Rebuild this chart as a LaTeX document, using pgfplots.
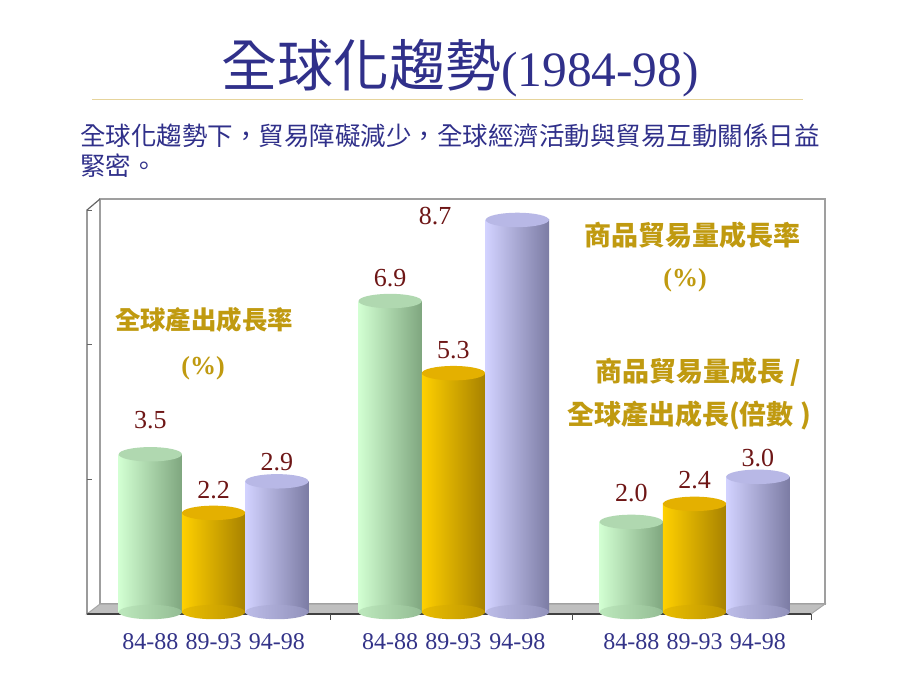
\documentclass[border=0pt]{standalone}
\usepackage{pgfplots}
\pgfplotsset{compat=1.18}
\usepackage{pgfplotstable}
\usepackage{fontspec}
\setmainfont{Liberation Serif}
\newfontfamily\cjk{Noto Sans CJK TC}

\definecolor{navy}{HTML}{30308A}
\definecolor{tickblue}{HTML}{333388}
\definecolor{valred}{HTML}{6E1616}
\definecolor{gold}{HTML}{C09A10}
\definecolor{rule}{HTML}{E6D49C}
\definecolor{gL}{HTML}{D2FFD2}
\definecolor{gR}{HTML}{7FA67F}
\definecolor{gT}{HTML}{B0D8B0}
\definecolor{yL}{HTML}{FFD000}
\definecolor{yR}{HTML}{A88200}
\definecolor{yT}{HTML}{E4B000}
\definecolor{pL}{HTML}{D2D2FF}
\definecolor{pR}{HTML}{7C7CA4}
\definecolor{pT}{HTML}{B8B8E6}

\pgfdeclarehorizontalshading{gshade}{100bp}{color(0bp)=(gL); color(100bp)=(gR)}
\pgfdeclarehorizontalshading{yshade}{100bp}{color(0bp)=(yL); color(100bp)=(yR)}
\pgfdeclarehorizontalshading{pshade}{100bp}{color(0bp)=(pL); color(100bp)=(pR)}

\pgfdeclareplotmark{cyl}{%
  \pgfpathellipse{\pgfpointorigin}{\pgfqpoint{\pgfplotmarksize}{0pt}}{\pgfqpoint{0pt}{3.6pt}}%
  \pgfusepathqfill}
\pgfdeclareplotmark{gbot}{%
  \pgfpathellipse{\pgfpointorigin}{\pgfqpoint{\pgfplotmarksize}{0pt}}{\pgfqpoint{0pt}{3.6pt}}%
  \pgfshadepath{gshade}{0}\pgfusepath{}}
\pgfdeclareplotmark{ybot}{%
  \pgfpathellipse{\pgfpointorigin}{\pgfqpoint{\pgfplotmarksize}{0pt}}{\pgfqpoint{0pt}{3.6pt}}%
  \pgfshadepath{yshade}{0}\pgfusepath{}}
\pgfdeclareplotmark{pbot}{%
  \pgfpathellipse{\pgfpointorigin}{\pgfqpoint{\pgfplotmarksize}{0pt}}{\pgfqpoint{0pt}{3.6pt}}%
  \pgfshadepath{pshade}{0}\pgfusepath{}}

% series: x position, value
\pgfplotstableread{
x y
1 3.5
4.79 6.9
8.6 2.0
}\sgreen
\pgfplotstableread{
x y
2 2.2
5.79 5.3
9.6 2.4
}\sgold
\pgfplotstableread{
x y
3 2.9
6.8 8.7
10.6 3.0
}\spurple
% value labels: position and text
\pgfplotstableread{
x y lab
1 4.26 3.5
2 2.71 2.2
3 3.33 2.9
4.79 7.41 6.9
5.79 5.81 5.3
5.5 8.79 8.7
8.6 2.64 2.0
9.6 2.93 2.4
10.6 3.42 3.0
}\slabels

\begin{document}
\begin{tikzpicture}
\begin{scope}[x=0.5pt,y=-0.5pt]
  \path[use as bounding box] (0,0) rectangle (920,690);
  % title
  \node[anchor=base,text=navy,inner sep=0pt] at (460,87)
    {\cjk\fontsize{28}{30}\selectfont 全球化趨勢\rmfamily\fontsize{24.75}{26}\selectfont(1984-98)};
  \draw[rule,line width=0.8pt] (92,99.5) -- (803,99.5);
  % subtitle
  \node[anchor=base west,text=navy,inner sep=0pt] at (80,145)
    {\cjk\fontsize{12.75}{14}\selectfont 全球化趨勢下，貿易障礙減少，全球經濟活動與貿易互動關係日益};
  \node[anchor=base west,text=navy,inner sep=0pt] at (80,175)
    {\cjk\fontsize{12.75}{14}\selectfont 緊密。};
  % 3D frame
  \filldraw[fill=white,draw=gray!75,line width=0.6pt] (100,199) rectangle (825,604);
  \filldraw[fill=gray!50,draw=gray!70,line width=0.5pt] (87,614) -- (100,604) -- (825,604) -- (811,614) -- cycle;
  \draw[black!75,line width=0.7pt] (87,614) -- (811,614);
  \draw[gray!80!black,line width=0.6pt] (87,614) -- (87,210) -- (100,199);
  \foreach \yy in {210,344,479} \draw[gray!80!black,line width=0.5pt] (87,\yy) -- (92,\yy);
  \foreach \xx in {330,572,811} \draw[black!70,line width=0.5pt] (\xx,614) -- (\xx,620);
\end{scope}

\begin{axis}[
  at={(43.5pt,-307pt)}, anchor=south west,
  scale only axis, width=362pt, height=202pt,
  xmin=0, xmax=11.44, ymin=-0.044, ymax=8.92,
  clip=false,
  axis line style={draw=none}, tick style={draw=none},
  ytick=\empty,
  xtick={1,2,3,4.79,5.79,6.8,8.6,9.6,10.6},
  xticklabels={84-88,89-93,94-98,84-88,89-93,94-98,84-88,89-93,94-98},
  xticklabel style={anchor=base, yshift=-17.5pt, text=tickblue,
    font=\fontsize{12}{14}\selectfont},
]
% bottom rounding
\addplot[only marks, mark=gbot, mark size=15.8pt] table[x=x, y expr=0] {\sgreen};
\addplot[only marks, mark=ybot, mark size=15.8pt] table[x=x, y expr=0] {\sgold};
\addplot[only marks, mark=pbot, mark size=15.8pt] table[x=x, y expr=0] {\spurple};
% cylinder bodies, one bar at a time so each has its own shading
\pgfplotsinvokeforeach{0,1,2}{
  \addplot[ybar, bar width=1, bar shift=0pt, draw=none, left color=gL, right color=gR,
    restrict expr to domain={\coordindex}{#1:#1}] table[x=x,y=y] {\sgreen};
  \addplot[ybar, bar width=1, bar shift=0pt, draw=none, left color=yL, right color=yR,
    restrict expr to domain={\coordindex}{#1:#1}] table[x=x,y=y] {\sgold};
  \addplot[ybar, bar width=1, bar shift=0pt, draw=none, left color=pL, right color=pR,
    restrict expr to domain={\coordindex}{#1:#1}] table[x=x,y=y] {\spurple};
}
% tops
\addplot[only marks, mark=cyl, mark size=15.8pt, color=gT] table[x=x,y=y] {\sgreen};
\addplot[only marks, mark=cyl, mark size=15.8pt, color=yT] table[x=x,y=y] {\sgold};
\addplot[only marks, mark=cyl, mark size=15.8pt, color=pT] table[x=x,y=y] {\spurple};
% value labels
\addplot[draw=none, mark=none, nodes near coords, point meta=explicit symbolic,
  nodes near coords align={anchor=center},
  every node near coord/.append style={anchor=center, text=valred, inner sep=0pt,
    font=\fontsize{13}{15}\selectfont}]
  table[x=x,y=y,meta=lab] {\slabels};
\end{axis}

\begin{scope}[x=0.5pt,y=-0.5pt]
  \node[text=gold,inner sep=0pt] at (204,320) {\cjk\bfseries\fontsize{12.7}{14}\selectfont 全球產出成長率};
  \node[text=gold,inner sep=0pt] at (203,368) {\bfseries\fontsize{13}{14}\selectfont (\%)};
  \node[text=gold,inner sep=0pt] at (692,235) {\cjk\bfseries\fontsize{13.5}{15}\selectfont 商品貿易量成長率};
  \node[text=gold,inner sep=0pt] at (685,280) {\bfseries\fontsize{13}{14}\selectfont (\%)};
  \node[text=gold,inner sep=0pt] at (698,372) {\cjk\bfseries\fontsize{13.5}{15}\selectfont 商品貿易量成長 /};
  \node[text=gold,inner sep=0pt] at (689,415) {\cjk\bfseries\fontsize{13.5}{15}\selectfont 全球產出成長(倍數 )};
\end{scope}
\end{tikzpicture}
\end{document}
